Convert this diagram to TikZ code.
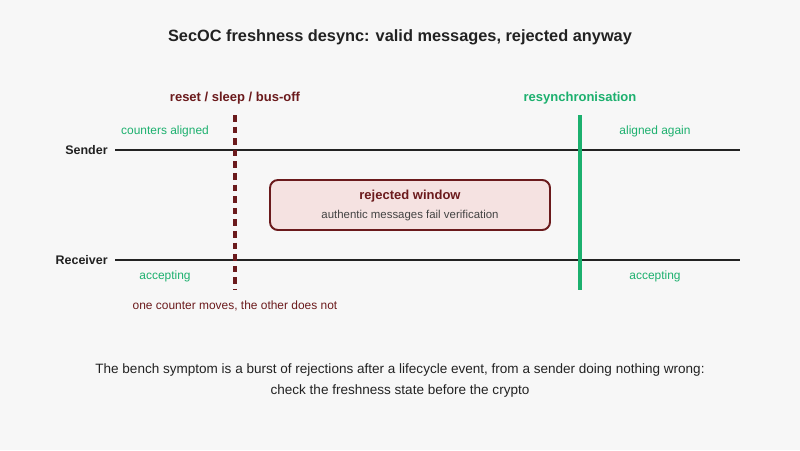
\documentclass[tikz,border=0pt]{standalone}
\usepackage{fontspec}
\setmainfont{Liberation Sans}
\usetikzlibrary{shapes,backgrounds,positioning}
\definecolor{bgcol}{HTML}{F7F7F7}
\definecolor{inkcol}{HTML}{222222}
\definecolor{redcol}{HTML}{6B1A1C}
\definecolor{greencol}{HTML}{1CB06E}
\definecolor{boxfill}{HTML}{F5E2E1}
\tikzstyle{title} = [text=inkcol, font=\fontsize{9.3}{11}\selectfont\bfseries]
\tikzstyle{lanelabel} = [text=inkcol, anchor=east, inner sep=0pt, font=\fontsize{7.1}{8}\selectfont\bfseries]
\tikzstyle{statelabel} = [text=greencol, inner sep=0pt, font=\fontsize{6.8}{8}\selectfont]
\tikzstyle{eventlabel} = [inner sep=0pt, font=\fontsize{7.4}{9}\selectfont\bfseries]
\tikzstyle{window} = [draw=redcol, line width=1.1pt, fill=boxfill, rounded corners=4.5pt, minimum width=5.6cm, minimum height=1cm]
\tikzstyle{lane} = [draw, line width=1.1pt, color=inkcol]
\tikzstyle{event} = [draw, line width=1.8pt, color=redcol, dash pattern=on 3.8pt off 2.8pt]
\tikzstyle{resync} = [draw, line width=1.8pt, color=greencol]
\tikzstyle{caption} = [text=inkcol, align=center, font=\fontsize{7.7}{12}\selectfont]
\newcommand{\lanelabel}[2]{node (l#1) [lanelabel] {#2}}
\newcommand{\statelabel}[2]{node (s#1) [statelabel] {#2}}

\begin{document}
\begin{tikzpicture}
\fill[bgcol] (0,0) rectangle (16,9);
\useasboundingbox (0,0) rectangle (16,9);
\path (8,8.26) node (t1) [title] {SecOC freshness desync: valid messages, rejected anyway};

% lanes
\coordinate (a1) at (2.3,6.0);
\coordinate (b1) at (14.8,6.0);
\coordinate (a2) at (2.3,3.8);
\coordinate (b2) at (14.8,3.8);
\path (a1)+(-0.14,0) \lanelabel{1}{Sender};
\path (a2)+(-0.14,0) \lanelabel{2}{Receiver};
\path [lane] (a1) -- (b1);
\path [lane] (a2) -- (b2);

% window
\path (8.2,4.9) node (w1) [window] {};
\path (w1)+(0,0.18) node [eventlabel, text=redcol] {rejected window};
\path (w1)+(0,-0.22) node [inner sep=0pt, text=inkcol!85, font=\fontsize{6.5}{8}\selectfont] {authentic messages fail verification};

% event and resync
\coordinate (e1) at (4.7,6.7);
\coordinate (e2) at (4.7,3.2);
\coordinate (r1) at (11.6,6.7);
\coordinate (r2) at (11.6,3.2);
\path [event] (e1) -- (e2);
\path [resync] (r1) -- (r2);
\path (e1)+(0,0.34) node (d1) [eventlabel, text=redcol] {reset / sleep / bus-off};
\path (r1)+(0,0.34) node (d2) [eventlabel, text=greencol] {resynchronisation};
\path (e2)+(0,-0.32) node (d3) [inner sep=0pt, text=redcol, font=\fontsize{6.8}{8}\selectfont] {one counter moves, the other does not};

% states
\path (3.3,6.38) \statelabel{1}{counters aligned};
\path (13.1,6.38) \statelabel{2}{aligned again};
\path (3.3,3.48) \statelabel{3}{accepting};
\path (13.1,3.48) \statelabel{4}{accepting};

\path (8,1.39) node (c1) [caption] {The bench symptom is a burst of rejections after a lifecycle event, from a sender doing nothing wrong:\\check the freshness state before the crypto};
\end{tikzpicture}
\end{document}
